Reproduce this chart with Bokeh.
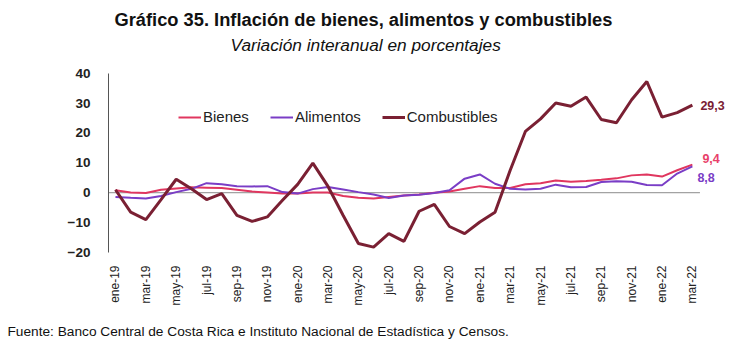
import math
from bokeh.plotting import figure
from bokeh.models import Range1d, FixedTicker, Legend, LegendItem, ColumnDataSource, Title
from bokeh.core.properties import value
from bokeh.embed import file_html
from bokeh.resources import INLINE

month_names = ["ene", "feb", "mar", "abr", "may", "jun", "jul", "ago", "sep", "oct", "nov", "dic"]
months = [f"{month_names[m % 12]}-{19 + m // 12}" for m in range(39)]

bienes = [0.8, 0.1, -0.1, 1.0, 1.4, 1.8, 1.7, 1.6, 1.0, 0.4, 0.1, -0.3, -0.3, 0.1, 0.1,
          -1.1, -1.7, -1.9, -1.4, -0.9, -0.6, 0.0, 0.4, 1.3, 2.2, 1.6, 1.6, 2.8, 3.2,
          4.1, 3.7, 3.9, 4.3, 4.8, 5.8, 6.1, 5.4, 7.5, 9.4]
alimentos = [-1.4, -1.7, -1.9, -1.1, 0.2, 1.3, 3.2, 2.8, 2.2, 2.1, 2.2, 0.2, -0.3, 1.2,
             1.9, 1.1, 0.2, -0.6, -1.8, -0.9, -0.7, -0.1, 0.8, 4.7, 6.1, 3.0, 1.3, 1.1,
             1.3, 2.7, 1.8, 1.9, 3.6, 3.8, 3.7, 2.6, 2.5, 6.4, 8.8]
combustibles = [1.0, -6.5, -9.0, -2.3, 4.5, 1.3, -2.3, -0.3, -7.6, -9.6, -8.1, -2.5, 2.8,
                9.9, 2.1, -7.6, -17.0, -18.2, -13.7, -16.3, -6.2, -3.9, -11.3, -13.7,
                -9.8, -6.5, 7.5, 20.5, 24.7, 30.0, 28.9, 32.0, 24.5, 23.4, 31.1, 37.2,
                25.3, 26.8, 29.3]
y_ticks = [-20, -10, 0, 10, 20, 30, 40]

C_BIE = "#E0365F"
C_ALI = "#7A3DC6"
C_COM = "#7A2033"
FONT = "Liberation Sans"

x = list(range(len(months)))
src = ColumnDataSource(dict(x=x, bienes=bienes, alimentos=alimentos, combustibles=combustibles))

p = figure(width=753, height=352, output_backend="svg", toolbar_location=None,
           x_range=Range1d(-0.46, 41.17), y_range=Range1d(-20, 45.9),
           min_border_left=108, min_border_right=13, min_border_top=55, min_border_bottom=100)
p.outline_line_color = None
p.background_fill_color = "white"
p.border_fill_color = "white"
p.xgrid.visible = False
p.ygrid.visible = False

# main title (outer) and subtitle (inner, nearest the frame)
p.title.text = "Gráfico 35. Inflación de bienes, alimentos y combustibles"
p.title.align = "left"
p.title.offset = 6
p.title.text_font = FONT
p.title.text_font_style = "bold"
p.title.text_font_size = "18.3px"
p.title.text_color = "#111111"
p.title.standoff = 4
p.add_layout(Title(text="Variación interanual en porcentajes",
                   align="left", offset=122, text_font=FONT, text_font_style="italic",
                   text_font_size="17.3px", text_color="#111111", standoff=2), "above")

# footer
p.add_layout(Title(text="Fuente: Banco Central de Costa Rica e Instituto Nacional de Estadística y Censos.",
                   align="left", offset=-101, text_font=FONT, text_font_style="normal",
                   text_font_size="13.7px", text_color="#111111", standoff=27), "below")

# zero line
p.line(x=[-0.46, len(months) - 0.5], y=[0, 0], line_color="#8C8C8C", line_width=1)

r_b = p.line("x", "bienes", source=src, line_color=C_BIE, line_width=2)
r_a = p.line("x", "alimentos", source=src, line_color=C_ALI, line_width=2)
r_c = p.line("x", "combustibles", source=src, line_color=C_COM, line_width=3)

# axes
p.yaxis.ticker = FixedTicker(ticks=y_ticks)
p.yaxis.bounds = (y_ticks[0], y_ticks[-1])
p.yaxis.major_label_text_font = FONT
p.yaxis.major_label_text_font_style = "bold"
p.yaxis.major_label_text_font_size = "13.5px"
p.yaxis.major_label_text_color = "#222222"
p.yaxis.axis_line_color = "#555555"
p.yaxis.major_tick_line_color = None
p.yaxis.minor_tick_line_color = None
p.yaxis.major_label_standoff = 12

p.xaxis.ticker = FixedTicker(ticks=x[::2])
p.xaxis.major_label_overrides = {i: months[i] for i in x[::2]}
p.xaxis.major_label_orientation = math.pi / 2
p.xaxis.major_label_text_font = FONT
p.xaxis.major_label_text_font_size = "12px"
p.xaxis.major_label_text_color = "#222222"
p.xaxis.axis_line_color = None
p.xaxis.major_tick_line_color = None
p.xaxis.minor_tick_line_color = None
p.xaxis.major_label_standoff = 7

# legend
legend = Legend(items=[LegendItem(label="Bienes", renderers=[r_b]),
                       LegendItem(label="Alimentos", renderers=[r_a]),
                       LegendItem(label="Combustibles", renderers=[r_c])],
                orientation="horizontal", location=(70, 127), padding=0, margin=0,
                spacing=21, label_standoff=2, glyph_width=23, glyph_height=16,
                border_line_color=None, background_fill_alpha=0,
                label_text_font=FONT, label_text_font_size="15px", label_text_color="#222222")
p.add_layout(legend)

# end labels
last = len(months) - 1
p.text(x=[last], y=[combustibles[-1]], text=[f"{combustibles[-1]:.1f}".replace(".", ",")],
       x_offset=8, text_baseline="middle", text_color=C_COM, text_font=value(FONT),
       text_font_style="bold", text_font_size="12.5px")
p.text(x=[last], y=[bienes[-1]], text=[f"{bienes[-1]:.1f}".replace(".", ",")],
       x_offset=10, y_offset=-6, text_baseline="middle", text_color="#E8416A",
       text_font=value(FONT), text_font_style="bold", text_font_size="12.5px")
p.text(x=[last], y=[alimentos[-1]], text=[f"{alimentos[-1]:.1f}".replace(".", ",")],
       x_offset=5, y_offset=11, text_baseline="middle", text_color=C_ALI,
       text_font=value(FONT), text_font_style="bold", text_font_size="12.5px")

open("out.html", "w").write(file_html(p, INLINE))
